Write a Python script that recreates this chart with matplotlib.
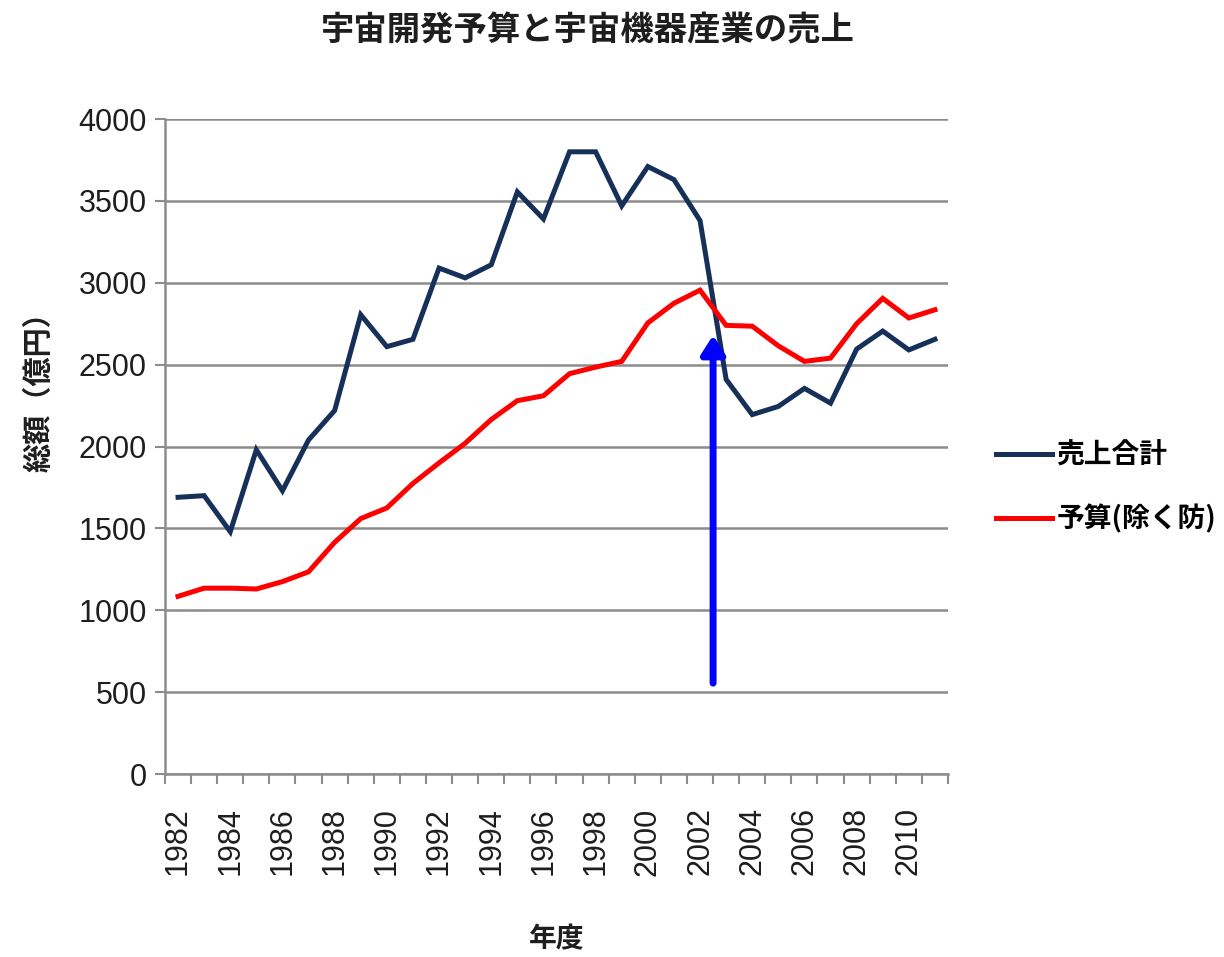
import numpy as np
import matplotlib.pyplot as plt

plt.rcParams['font.family'] = ['Noto Sans CJK JP', 'DejaVu Sans']

years = list(range(1982, 2012))

# 売上合計 (億円)
sales_total = [1690, 1700, 1480, 1980, 1730, 2040, 2220, 2805, 2610, 2655,
               3090, 3030, 3110, 3555, 3390, 3800, 3800, 3470, 3710, 3630,
               3380, 2410, 2195, 2245, 2355, 2265, 2595, 2705, 2590, 2655]

# 予算(除く防) (億円)
budget = [1085, 1135, 1135, 1130, 1175, 1235, 1415, 1560, 1625, 1775,
          1900, 2020, 2165, 2280, 2310, 2445, 2485, 2520, 2755, 2875,
          2955, 2740, 2735, 2615, 2520, 2540, 2750, 2905, 2785, 2835]

y_ticks = [0, 500, 1000, 1500, 2000, 2500, 3000, 3500, 4000]
label_years = years[::2]

# arrow marking the crossover year
arrow_year = 2002.5
arrow_from = 555
arrow_to = 2680

NAVY = '#17305a'
RED = '#ff0000'
GRID = '#8c8c8c'
TEXT = '#1e1e1e'

fig = plt.figure(figsize=(12.24, 9.57), dpi=100)
ax = fig.add_axes([0.1348, 0.1912, 0.6397, 0.6844])

ax.plot(years, sales_total, color=NAVY, lw=3.6, solid_joinstyle='miter', label='売上合計', zorder=3)
ax.plot(years, budget, color=RED, lw=3.6, solid_joinstyle='miter', label='予算(除く防)', zorder=3)

ax.annotate('', xy=(arrow_year, arrow_to), xytext=(arrow_year, arrow_from),
            arrowprops=dict(arrowstyle='-|>,head_length=1.1,head_width=0.7',
                            color='#0000ff', lw=5, shrinkA=0, shrinkB=0),
            zorder=4)

ax.set_xlim(years[0] - 0.5, years[-1] + 0.5)
ax.set_ylim(0, 4000)
ax.set_yticks(y_ticks)
ax.set_yticklabels([str(v) for v in y_ticks], family='Liberation Sans', fontsize=22, color=TEXT)
ax.set_xticks(label_years)
ax.set_xticklabels([str(y) for y in label_years], family='Liberation Sans', fontsize=22,
                   rotation=90, color=TEXT)
ax.set_xticks(np.arange(years[0] - 0.5, years[-1] + 1), minor=True)
ax.tick_params(axis='x', which='major', length=0, pad=24)
ax.tick_params(axis='x', which='minor', length=7, width=1.5, color=GRID)
ax.tick_params(axis='y', length=7, width=1.5, color=GRID, pad=6)

ax.grid(axis='y', color=GRID, lw=1.8)
ax.set_axisbelow(True)
for side in ['top', 'right']:
    ax.spines[side].set_visible(False)
for side in ['left', 'bottom']:
    ax.spines[side].set_color(GRID)
    ax.spines[side].set_linewidth(1.8)

ax.set_ylabel('総額（億円）', fontsize=21, fontweight='bold', color=TEXT)
ax.yaxis.set_label_coords(-0.142, 0.594)
ax.set_xlabel('年度', fontsize=20, fontweight='bold', color=TEXT, labelpad=36)

fig.suptitle('宇宙開発予算と宇宙機器産業の売上', fontsize=24, fontweight='bold', x=0.48, y=0.985,
             color=TEXT)

ax.legend(loc='center left', bbox_to_anchor=(1.03, 0.437), frameon=False,
          handlelength=2.0, handletextpad=0.15, labelspacing=1.25,
          prop={'size': 20, 'weight': 'bold'})

fig.savefig('out.png', dpi=100)
